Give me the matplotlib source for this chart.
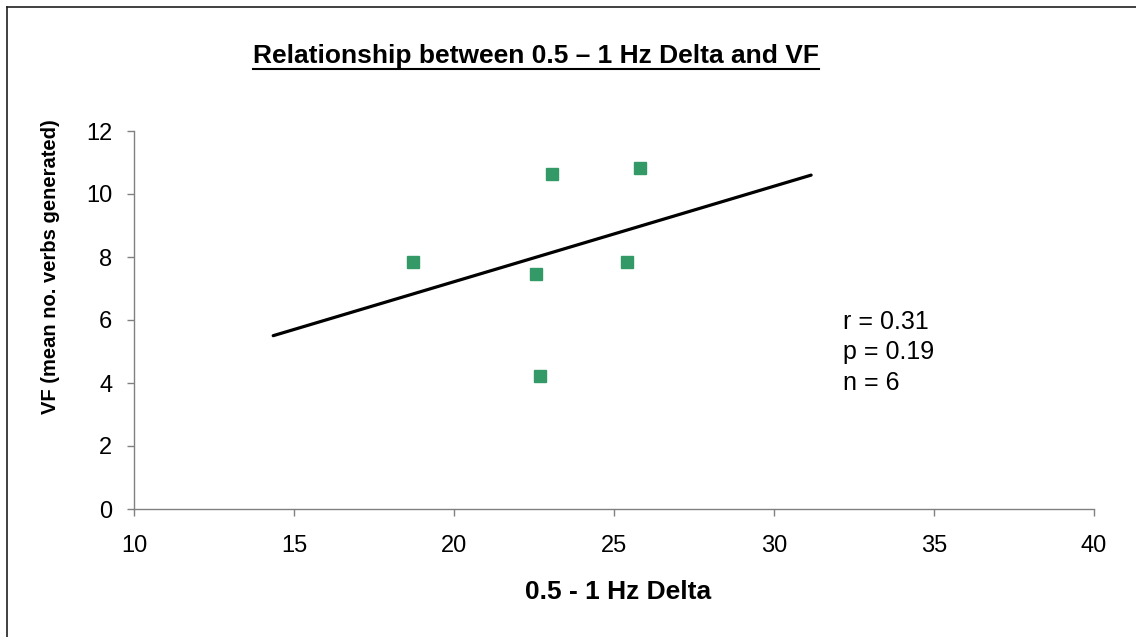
import numpy as np
import matplotlib
matplotlib.use("Agg")
import matplotlib.pyplot as plt
from matplotlib.lines import Line2D
from matplotlib import font_manager

# ---- data ----
delta_x = [18.73, 23.05, 25.80, 22.55, 25.42, 22.68]
vf_y = [7.84, 10.63, 10.83, 7.46, 7.84, 4.22]
trend_x_range = [14.35, 31.16]
x_ticks = [10, 15, 20, 25, 30, 35, 40]
y_ticks = [0, 2, 4, 6, 8, 10, 12]
stats_lines = ["r = 0.31", "p = 0.19", "n = 6"]

title = "Relationship between 0.5 \u2013 1 Hz Delta and VF"
xlabel = "0.5 - 1 Hz Delta"
ylabel = "VF (mean no. verbs generated)"

plt.rcParams['font.family'] = ['Liberation Sans', 'DejaVu Sans']

installed = {f.name for f in font_manager.fontManager.ttflist}
if 'Liberation Sans Narrow' in installed:
    ylab_family, ylab_size = 'Liberation Sans Narrow', 17.5
else:
    ylab_family, ylab_size = 'Liberation Sans', 14.5

W, H = 1136, 637
fig = plt.figure(figsize=(W / 100, H / 100), dpi=100)
fig.patch.set_facecolor('white')

# outer frame (top and left visible; right/bottom run off the image)
fig.add_artist(Line2D([7 / W, 1.01], [1 - 7 / H, 1 - 7 / H], transform=fig.transFigure,
                      color='#202020', lw=1.2))
fig.add_artist(Line2D([7 / W, 7 / W], [1 - 7 / H, -0.01], transform=fig.transFigure,
                      color='#202020', lw=1.2))

left, right = 134 / W, 1094 / W
bottom, top = 1 - 509 / H, 1 - 131 / H
ax = fig.add_axes([left, bottom, right - left, top - bottom])
ax.set_xlim(x_ticks[0], x_ticks[-1])
ax.set_ylim(y_ticks[0], y_ticks[-1])
ax.set_xticks(x_ticks)
ax.set_yticks(y_ticks)
for s in ['top', 'right']:
    ax.spines[s].set_visible(False)
for s in ['left', 'bottom']:
    ax.spines[s].set_color('#808080')
    ax.spines[s].set_linewidth(1.0)
ax.tick_params(direction='out', length=5, width=1.0, color='#808080',
               labelsize=17, labelcolor='black')
ax.tick_params(axis='x', pad=14)
ax.tick_params(axis='y', pad=10.5)

# scatter
ax.plot(delta_x, vf_y, linestyle='none', marker='s', markersize=8.4,
        color='#339966', markeredgecolor='#339966', clip_on=False)

# linear trend line (least squares) over the range shown
slope, intercept = np.polyfit(delta_x, vf_y, 1)
tx = np.array(trend_x_range)
ax.plot(tx, slope * tx + intercept, color='black', lw=2.3, solid_capstyle='round')

# stats text
for i, s in enumerate(stats_lines):
    fig.text(843 / W, 1 - (322 + 30.5 * i) / H, s,
             fontsize=18, va='center', ha='left')

# axis labels
fig.text(618 / W, 1 - 592 / H, xlabel, ha='center', va='center',
         fontsize=19, fontweight='bold')
fig.text(51 / W, 1 - 267 / H, ylabel, ha='center', va='center', rotation=90,
         fontsize=ylab_size, fontweight='bold', family=ylab_family)

# title with underline
t = fig.text(536 / W, 1 - 63 / H, title, ha='center', va='baseline',
             fontsize=19, fontweight='bold')
fig.canvas.draw()
bb = t.get_window_extent()
uy = 1 - 68.5 / H
fig.add_artist(Line2D([bb.x0 / W, bb.x1 / W], [uy, uy],
                      transform=fig.transFigure, color='black', lw=1.5))

fig.savefig('out.png', dpi=100)
